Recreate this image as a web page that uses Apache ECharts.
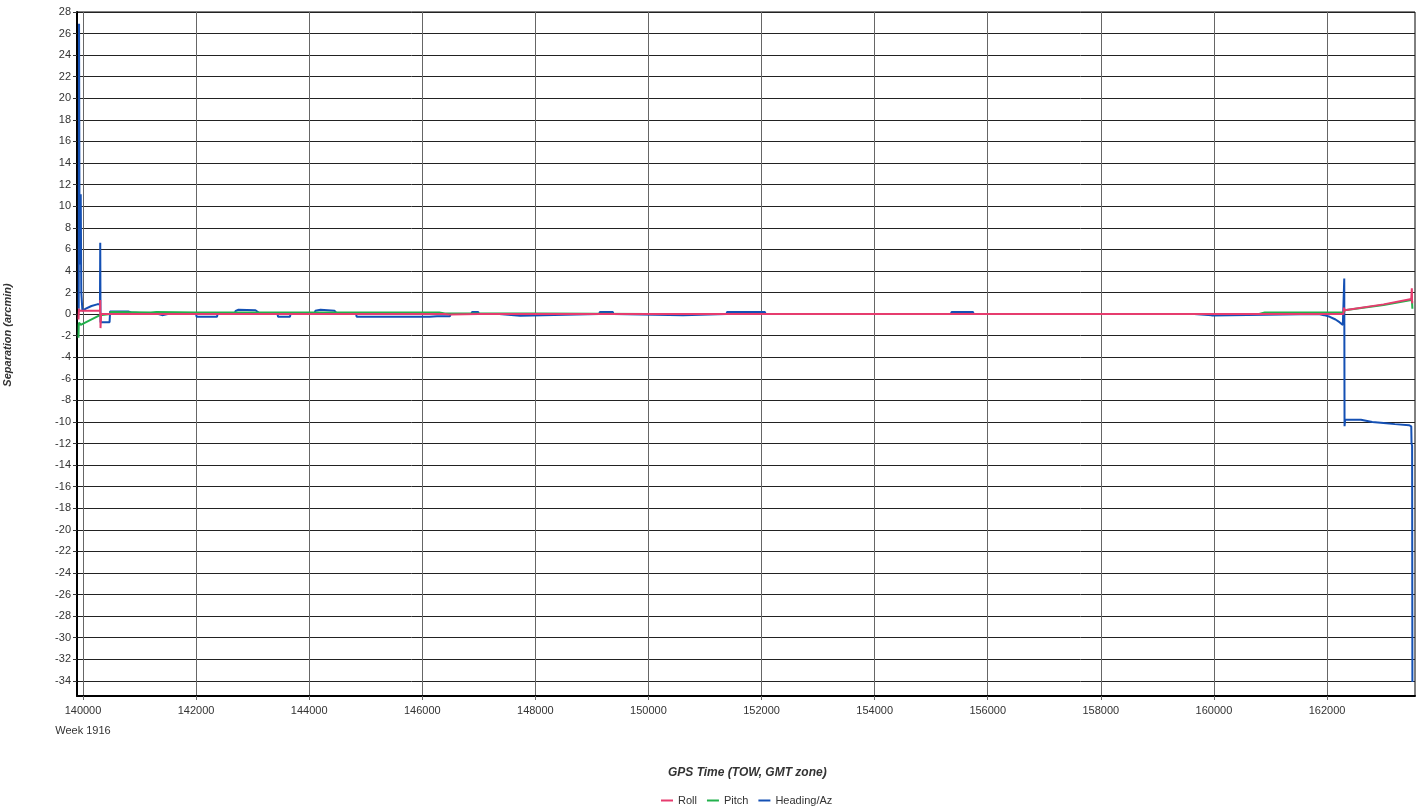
<!DOCTYPE html>
<html>
<head>
<meta charset="utf-8">
<script src="https://cdn.jsdelivr.net/npm/echarts@6/dist/echarts.min.js"></script>
<style>html,body{margin:0;padding:0;background:#fff}#c{width:1423px;height:810px}</style>
</head>
<body>
<div id="c"></div>
<script>
var xTicks = [140000,142000,144000,146000,148000,150000,152000,154000,156000,158000,160000,162000];
var yTicks = [28,26,24,22,20,18,16,14,12,10,8,6,4,2,0,-2,-4,-6,-8,-10,-12,-14,-16,-18,-20,-22,-24,-26,-28,-30,-32,-34];

var headingTime = [139925,139930,139940,139960,139970,139990,140050,140150,140250,140300,140305,140310,140470,140480,140800,140850,141000,141300,141400,141500,142000,142010,142370,142380,142680,142700,142750,143050,143130,143440,143450,143660,143670,144090,144110,144200,144450,144500,144830,144840,146130,146260,146490,146500,146870,146880,146990,147000,147360,147370,147730,147740,149130,149140,149370,149380,149390,149400,150610,150620,151380,151390,152060,152070,155350,155360,155740,155750,159650,159660,159960,159970,161850,161950,162050,162150,162220,162280,162300,162305,162310,162320,162600,162800,163000,163200,163450,163490,163495,163505,163510];
var headingValue = [0.5,26.9,4.6,11.1,2.0,0.3,0.5,0.75,0.9,0.9,6.6,-0.75,-0.75,0.25,0.25,0.15,0.1,0.05,-0.1,0,0,-0.25,-0.25,0,0,0.3,0.4,0.35,0.05,0,-0.25,-0.25,0,0,0.3,0.4,0.3,0,0,-0.25,-0.25,-0.2,-0.2,0,0,0.2,0.2,0,0,-0.15,-0.15,0,0,0.2,0.2,0,0,-0.1,-0.1,0,0,0.2,0.2,0,0,0.2,0.2,0,0,-0.12,-0.12,0,0,-0.1,-0.25,-0.5,-0.75,-1.0,-1.05,3.3,-10.4,-9.8,-9.8,-10.0,-10.1,-10.2,-10.3,-10.4,-12.0,-12.2,-34.1];

var pitchTime = [139920,139925,139930,139960,140300,140320,140480,140490,141200,141300,142000,143000,144000,146300,146400,148000,150000,155000,160800,160900,162300,162310,163000,163490,163500,163510];
var pitchValue = [-2.2,-1.0,-0.8,-1.0,-0.1,0,0,0.2,0.15,0.2,0.15,0.15,0.15,0.15,0.05,0.05,0,0,0,0.15,0.15,0.35,0.85,1.3,1.5,0.5];

var rollTime = [139920,139930,139935,139950,140000,140300,140305,140310,140320,141300,141310,141320,142000,143500,145000,146400,146500,147000,148000,150000,154000,158000,160000,162290,162300,162310,162320,163000,163490,163500,163505,163510];
var rollValue = [-0.5,0.5,0.3,0.2,0.3,0.3,1.3,-1.3,0,0,-0.15,0,0,0,0,0,-0.05,0,0,0,0,0,0,0,0.6,0.35,0.45,0.9,1.4,2.4,1.0,1.2];

function zip(a, b) { return a.map(function (t, i) { return [t, b[i]]; }); }

var chart = echarts.init(document.getElementById('c'));
var font = 'Liberation Sans, Arial, sans-serif';
chart.setOption({
  animation: false,
  grid: { left: 77, right: 8, top: 12, bottom: 114, show: true, borderColor: '#000', borderWidth: 1, backgroundColor: 'transparent' },
  xAxis: {
    type: 'value', min: 139894, max: 163556,
    axisLine: { show: true, onZero: false, lineStyle: { color: '#000', width: 2 } },
    axisTick: { show: true, length: 4, customValues: xTicks, lineStyle: { color: '#666' } },
    axisLabel: { customValues: xTicks, color: '#333', fontFamily: font, fontSize: 11, margin: 5, lineHeight: 20,
      formatter: function (v) { return v === 140000 ? '140000\nWeek 1916' : String(v); } },
    splitLine: { show: true, lineStyle: { color: '#666', width: 1 } }
  },
  yAxis: {
    type: 'value', min: -35.4, max: 28,
    axisLine: { show: true, onZero: false, lineStyle: { color: '#000', width: 2 } },
    axisTick: { show: true, length: 4, customValues: yTicks, lineStyle: { color: '#333' } },
    axisLabel: { customValues: yTicks, color: '#333', fontFamily: font, fontSize: 11, margin: 6 },
    splitLine: { show: true, lineStyle: { color: '#222', width: 1 } }
  },
  legend: {
    data: ['Roll', 'Pitch', 'Heading/Az'], top: 790, left: 656,
    icon: 'rect', itemWidth: 12, itemHeight: 2, itemGap: 10,
    textStyle: { fontFamily: font, fontSize: 11, color: '#333' }
  },
  graphic: [
    { type: 'text', left: 668, top: 767, style: { text: 'GPS Time (TOW, GMT zone)', font: 'italic bold 12px ' + font, fill: '#333' } },
    { type: 'text', x: 8, y: 335, rotation: Math.PI / 2, style: { text: 'Separation (arcmin)', font: 'italic bold 11px ' + font, fill: '#333', align: 'center', verticalAlign: 'middle' } }
  ],
  series: [
    { name: 'Heading/Az', type: 'line', data: zip(headingTime, headingValue), showSymbol: false, lineStyle: { color: '#1450b4', width: 2 }, itemStyle: { color: '#1450b4' } },
    { name: 'Pitch', type: 'line', data: zip(pitchTime, pitchValue), showSymbol: false, lineStyle: { color: '#22b14c', width: 2 }, itemStyle: { color: '#22b14c' } },
    { name: 'Roll', type: 'line', data: zip(rollTime, rollValue), showSymbol: false, lineStyle: { color: '#e63c6e', width: 2 }, itemStyle: { color: '#e63c6e' } }
  ]
});
</script>
</body>
</html>
